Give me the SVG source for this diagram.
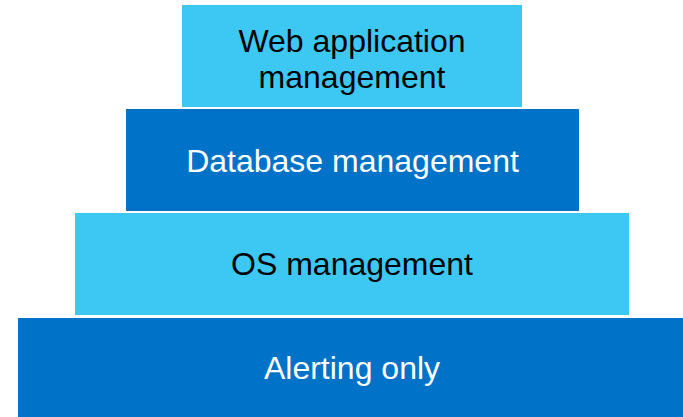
<svg xmlns="http://www.w3.org/2000/svg" width="683" height="417" viewBox="0 0 683 417">
<style>
.light{fill:#3DC8F4}
.dark{fill:#0073C8}
text{font-family:"Liberation Sans",Arial,sans-serif;font-size:32px;text-anchor:middle}
.tl{fill:#000}
.td{fill:#fff}
</style>
<rect width="683" height="417" fill="#fff"/>
<g id="web">
<rect class="light" x="182" y="5" width="340" height="102"/>
<text class="tl" x="352" y="51.5">Web application</text>
<text class="tl" x="352" y="87.5">management</text>
</g>
<g id="database">
<rect class="dark" x="126" y="109" width="453" height="102"/>
<text class="td" x="352.5" y="172">Database management</text>
</g>
<g id="os">
<rect class="light" x="75" y="213" width="554" height="102"/>
<text class="tl" x="352" y="275">OS management</text>
</g>
<g id="alerting">
<rect class="dark" x="18" y="318" width="670" height="102"/>
<text class="td" x="352" y="379">Alerting only</text>
</g>
<g id="connectors"/>
</svg>
